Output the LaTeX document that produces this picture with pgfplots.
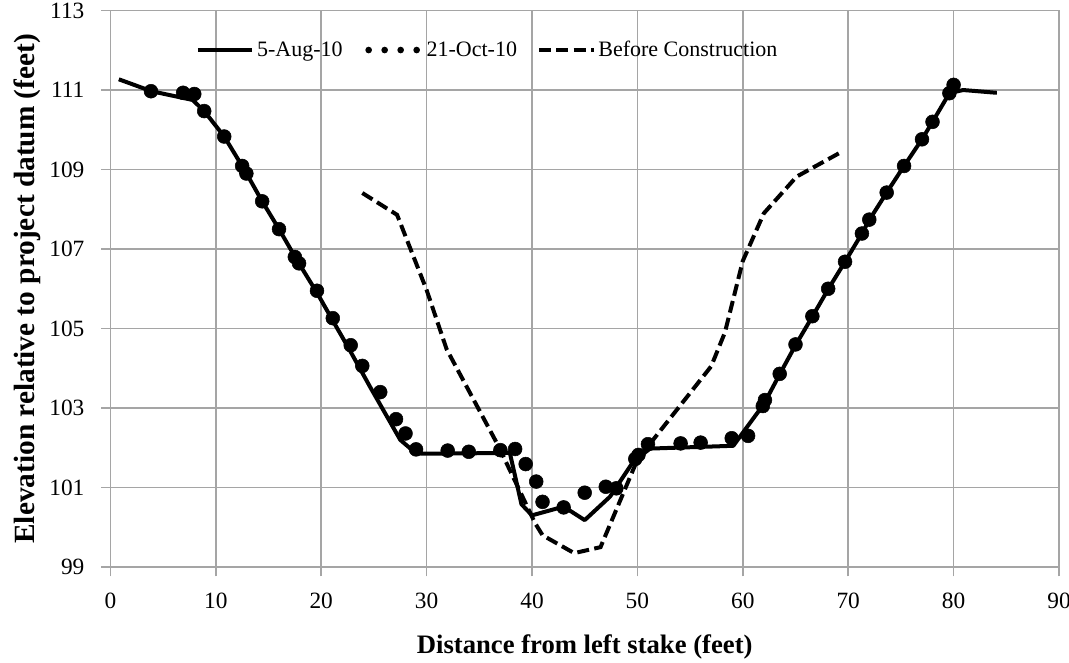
\documentclass[border=0pt]{standalone}
\usepackage{pgfplots}
\pgfplotsset{compat=1.18}
\usepackage{fontspec}
\setmainfont{Liberation Serif}
\definecolor{gridgray}{RGB}{165,165,165}
\begin{document}
\begin{tikzpicture}
\begin{axis}[
  name=ax,
  scale only axis,
  width=711.5pt, height=417.4pt,
  xmin=0, xmax=90, ymin=99, ymax=113,
  xtick={0,10,...,90}, ytick={99,101,...,113},
  grid=major,
  major grid style={gridgray, line width=1.2pt},
  axis line style={gridgray, line width=1.2pt},
  tick style={gridgray, line width=1.2pt},
  tick align=outside, major tick length=7pt,
  xtick pos=bottom, ytick pos=left,
  /pgf/number format/assume math mode=true,
  ticklabel style={font=\fontsize{17.5}{21}\selectfont, text=black},
  xticklabel style={yshift=-9pt},
  yticklabel style={xshift=-9pt},
  xlabel={\textbf{Distance from left stake (feet)}},
  ylabel={\textbf{Elevation relative to project datum (feet)}},
  x label style={font=\fontsize{20}{24}\selectfont, at={(axis description cs:0.5,0)}, anchor=center, yshift=-60pt},
  y label style={font=\fontsize{22}{26}\selectfont, at={(axis description cs:0,0.5)}, anchor=center, yshift=62pt},
  legend style={draw=none, fill=none, at={(0.398,0.929)}, anchor=center,
    legend columns=3, font=\fontsize{16.5}{20}\selectfont,
    /tikz/every even column/.append style={column sep=13pt},
    inner sep=0pt},
  legend cell align=left,
  legend image code/.code={\draw[#1] (0pt,0pt) -- (41pt,0pt);},
]
\addplot[black, line width=3pt, line join=round, forget plot] coordinates {
(0.8,111.27) (3.9,110.97) (7.8,110.75) (8.9,110.47) (10.8,109.83) (12.7,109.0)
(14.4,108.2) (16.0,107.5) (17.7,106.72) (19.6,105.9) (21.1,105.2) (22.7,104.46)
(24.6,103.55) (27.5,102.2) (28.6,101.95) (29.5,101.85) (37.9,101.87) (39.0,100.58)
(40.0,100.3) (43.0,100.52) (45.0,100.18) (47.4,100.77) (49.6,101.65) (51.2,101.98)
(59.1,102.05) (60.2,102.45) (62.0,103.1) (63.5,103.85) (65.0,104.58) (66.6,105.3)
(68.1,105.99) (69.7,106.68) (71.3,107.39) (72.0,107.73) (73.65,108.42) (75.3,109.09)
(77.0,109.76) (78.0,110.2) (79.6,110.92) (80.9,111.0) (84.1,110.93)
};
\addplot[only marks, mark=*, mark size=5.2pt, black, forget plot] coordinates {
(3.85,110.97) (6.9,110.93) (7.96,110.9) (8.9,110.47) (10.8,109.83) (12.5,109.09)
(12.9,108.9) (14.4,108.2) (16.0,107.5) (17.5,106.8) (17.9,106.64) (19.6,105.95)
(21.1,105.26) (22.8,104.58) (23.9,104.06) (25.6,103.4) (27.1,102.72) (28.0,102.36)
(29.0,101.96) (32.0,101.93) (34.0,101.9) (37.0,101.94) (38.4,101.97) (39.4,101.59)
(40.4,101.15) (41.0,100.64) (43.0,100.5) (45.0,100.87) (47.0,101.02) (48.0,100.98)
(49.8,101.72) (50.1,101.82) (51.0,102.09) (54.1,102.11) (56.0,102.13) (58.95,102.24)
(60.5,102.3) (61.9,103.05) (62.1,103.2) (63.5,103.86) (65.0,104.6) (66.6,105.31)
(68.1,106.0) (69.7,106.68) (71.3,107.39) (72.0,107.74) (73.65,108.42) (75.3,109.09)
(77.0,109.76) (78.0,110.2) (79.6,110.92) (80.0,111.13)
};
\addplot[black, line width=3pt, dash pattern=on 9pt off 4pt, forget plot] coordinates {
(23.9,108.41) (27.2,107.86) (30.0,105.97) (31.9,104.48) (36.8,102.05) (40.3,100.1)
(41.0,99.8) (44.0,99.35) (46.5,99.5) (50.0,101.7) (57.0,104.05) (58.3,104.9)
(60.0,106.7) (62.0,107.9) (65.1,108.82) (69.2,109.42)
};
\addlegendimage{black, line width=3pt}
\addlegendentry{5-Aug-10}
\addlegendimage{black, line width=5pt, line cap=round, dash pattern=on 0pt off 12pt, dash phase=-2pt}
\addlegendentry{21-Oct-10}
\addlegendimage{black, line width=3pt, dash pattern=on 9pt off 4pt}
\addlegendentry{Before Construction}
\end{axis}
\pgfresetboundingbox
\path (ax.south west) ++(-82.8pt,-71.25pt) rectangle ([shift={(7.5pt,7.9pt)}]ax.north east);
\end{tikzpicture}
\end{document}
